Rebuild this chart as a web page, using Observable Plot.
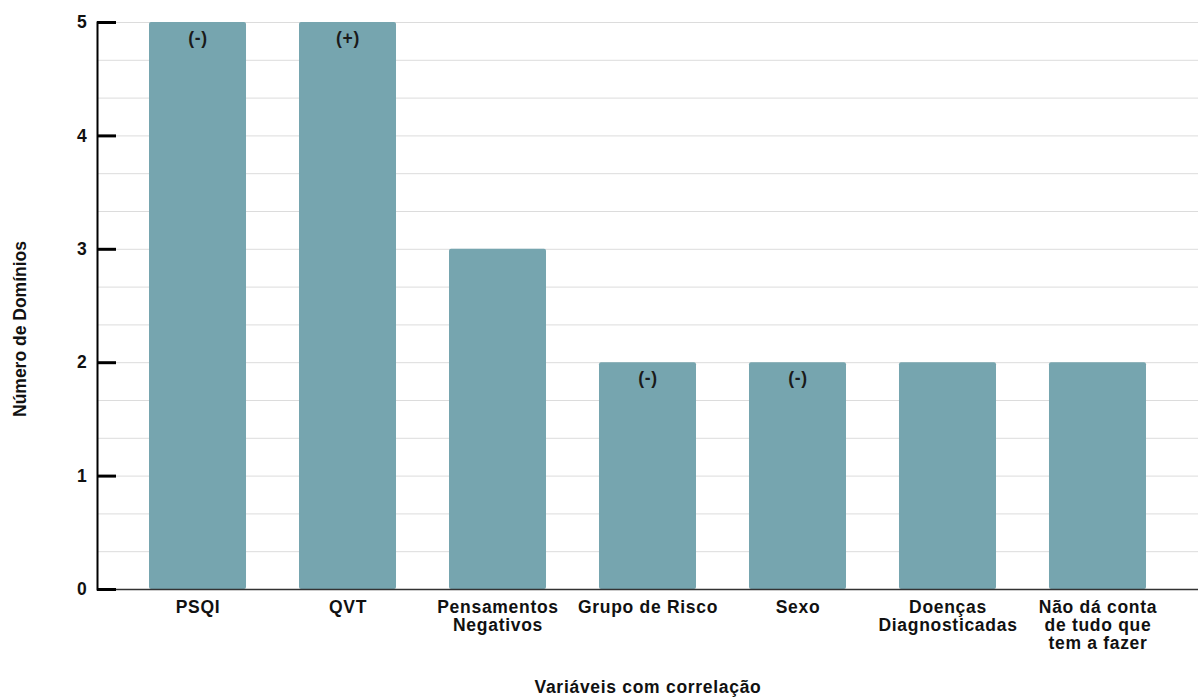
<!DOCTYPE html>
<html>
<head>
<meta charset="utf-8">
<script src="https://cdn.jsdelivr.net/npm/d3@7"></script>
<script src="https://cdn.jsdelivr.net/npm/@observablehq/plot@0.6"></script>
<style>
  html, body { margin: 0; padding: 0; background: #fff; }
  #chart svg { display: block; }
</style>
</head>
<body>
<div id="chart"></div>
<script>
const categories = ["PSQI", "QVT", "Pensamentos Negativos", "Grupo de Risco", "Sexo", "Doenças Diagnosticadas", "Não dá conta de tudo que tem a fazer"];
const tickLabels = ["PSQI", "QVT", "Pensamentos\nNegativos", "Grupo de Risco", "Sexo", "Doenças\nDiagnosticadas", "Não dá conta\nde tudo que\ntem a fazer"];
const values = [5, 5, 3, 2, 2, 2, 2];
const signs = ["(-)", "(+)", "", "(-)", "(-)", "", ""];
const yTicks = [0, 1, 2, 3, 4, 5];
const yGrid = [0, 1/3, 2/3, 1, 4/3, 5/3, 2, 7/3, 8/3, 3, 10/3, 11/3, 4, 13/3, 14/3, 5];
const yTitle = "Número de Domínios";
const xTitle = "Variáveis com correlação";

const data = categories.map((c, i) => ({cat: c, value: values[i], sign: signs[i]}));
const labelOf = new Map(categories.map((c, i) => [c, tickLabels[i]]));

const W = 1203, H = 698, ML = 97, MR = 5, MT = 22, MB = 109;
const FS = 17.5;
const font = "'Liberation Sans', Arial, sans-serif";

const chart = Plot.plot({
  width: W,
  height: H,
  marginLeft: ML,
  marginRight: MR,
  marginTop: MT,
  marginBottom: MB,
  style: {fontFamily: font, fontSize: FS + "px", fontWeight: "bold", color: "#111", background: "#fff"},
  x: {domain: categories, paddingInner: 0.3533, paddingOuter: 0.3467, round: false, label: null},
  y: {domain: [0, 5], label: null},
  marks: [
    Plot.ruleY(yGrid, {y: d => d, stroke: "#dcdcdc", strokeWidth: 1}),
    Plot.barY(data, {x: "cat", y: "value", fill: "#76a5af", rx: 2}),
    Plot.ruleY([0], {stroke: "#333", strokeWidth: 1.5}),
    Plot.frame({anchor: "left", stroke: "#000", strokeWidth: 2}),
    Plot.tickY(yTicks, {y: d => d, stroke: "#000", strokeWidth: 3, insetRight: W - ML - MR - 19}),
    Plot.axisY({ticks: yTicks, tickSize: 0, tickPadding: 10, tickFormat: d3.format("d"), fontSize: FS, fontWeight: "bold", label: null}),
    Plot.axisX({tickSize: 0, tickPadding: 10, fontSize: FS, fontWeight: "bold", lineHeight: 1.05, tickFormat: d => labelOf.get(d), label: null}),
    Plot.text(data.filter(d => d.sign), {x: "cat", y: "value", text: "sign", dy: 16, fontSize: FS, fontWeight: "bold", fill: "#1a1a1a"}),
    Plot.text([yTitle], {frameAnchor: "left", textAnchor: "middle", dx: -77, dy: 23, rotate: -90, fontSize: FS, fontWeight: "bold", fill: "#111"}),
    Plot.text([xTitle], {frameAnchor: "bottom", dy: 103, fontSize: FS, fontWeight: "bold", fill: "#111"})
  ]
});
d3.select(chart).selectAll("text")
  .filter(function () { return !/rotate/.test(this.getAttribute("transform") || ""); })
  .attr("letter-spacing", "0.7px");
document.getElementById("chart").appendChild(chart);
</script>
</body>
</html>
